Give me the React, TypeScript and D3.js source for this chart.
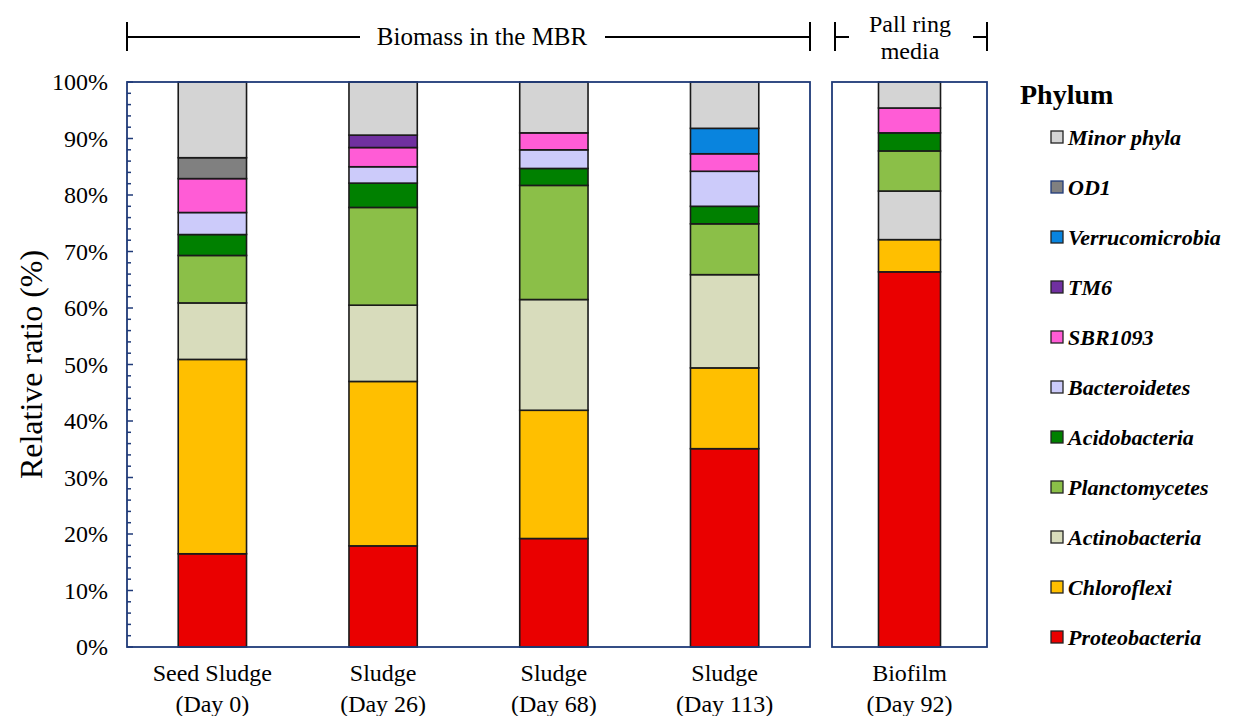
import React from "react";
import * as d3 from "d3";

const samples = ["Seed Sludge|(Day 0)", "Sludge|(Day 26)", "Sludge|(Day 68)", "Sludge|(Day 113)", "Biofilm|(Day 92)"];
const leftSamples = samples.slice(0, 4);
const rightSamples = samples.slice(4);

const phyla = [
  "Proteobacteria", "Chloroflexi", "Actinobacteria", "Planctomycetes", "Acidobacteria",
  "Bacteroidetes", "SBR1093", "TM6", "Verrucomicrobia", "OD1", "Minor phyla",
];

const proteobacteria = [16.5, 17.9, 19.2, 35.1, 66.4];
const chloroflexi = [34.4, 29.1, 22.7, 14.3, 5.7];
const actinobacteria = [10.0, 13.5, 19.6, 16.5, 8.6];
const planctomycetes = [8.4, 17.3, 20.2, 9.0, 7.1];
const acidobacteria = [3.7, 4.3, 3.0, 3.1, 3.2];
const bacteroidetes = [3.9, 2.9, 3.3, 6.2, 0];
const sbr1093 = [6.0, 3.4, 3.0, 3.1, 4.4];
const tm6 = [0, 2.2, 0, 0, 0];
const verrucomicrobia = [0, 0, 0, 4.5, 0];
const od1 = [3.7, 0, 0, 0, 0];
const minorPhyla = [13.4, 9.4, 9.0, 8.2, 4.6];

const seriesValues = [
  proteobacteria, chloroflexi, actinobacteria, planctomycetes, acidobacteria,
  bacteroidetes, sbr1093, tm6, verrucomicrobia, od1, minorPhyla,
];

const colors = [
  "#ea0000", "#ffbf00", "#d8dcbc", "#8bbf48", "#008000",
  "#cccbfa", "#ff5cd6", "#7030a0", "#0984de", "#808080", "#d4d4d4",
];
// the Biofilm Actinobacteria segment is drawn gray in the original figure
const cellColorOverride: Record<string, string> = { "Actinobacteria|Biofilm|(Day 92)": "#d4d4d4" };

const yTicks = [0, 10, 20, 30, 40, 50, 60, 70, 80, 90, 100];
const minorTicks = d3.range(0, 101, 2);

const legendOrder = [...phyla].reverse();

const FONT = "'Liberation Serif', 'Times New Roman', Times, Tinos, 'Noto Serif', 'DejaVu Serif', serif";
const BORDER = "#1f3a78";
const T = (extra: React.CSSProperties = {}): React.CSSProperties => ({ fontFamily: FONT, ...extra });

export default function App() {
  const W = 1248, H = 716;
  const top = 82, bottom = 647;
  const leftX0 = 127, leftX1 = 810, rightX0 = 832, rightX1 = 987;

  const y = d3.scaleLinear().domain([0, 100]).range([bottom, top]);
  const xL = d3.scaleBand<string>().domain(leftSamples).range([leftX0, leftX1]).paddingInner(0.6).paddingOuter(0.3);
  const xR = d3.scaleBand<string>().domain(rightSamples).range([rightX0, rightX1]).paddingInner(0.6).paddingOuter(0.3);

  const table = samples.map((s, i) => {
    const row: Record<string, any> = { sample: s };
    phyla.forEach((p, j) => (row[p] = seriesValues[j][i]));
    return row;
  });
  const stacked = d3.stack<Record<string, any>>().keys(phyla)(table);

  const xFor = (s: string) => (leftSamples.includes(s) ? xL(s)! : xR(s)!);
  const bwFor = (s: string) => (leftSamples.includes(s) ? xL.bandwidth() : xR.bandwidth());

  return (
    <svg width={W} height={H} style={{ position: "absolute", left: 0, top: 0, background: "#fff" }}>
      {/* header brackets */}
      <g stroke="#000" strokeWidth={2}>
        <line x1={leftX0} x2={leftX0} y1={22} y2={51} />
        <line x1={leftX1} x2={leftX1} y1={22} y2={51} />
        <line x1={leftX0} x2={360} y1={37} y2={37} />
        <line x1={605} x2={leftX1} y1={37} y2={37} />
        <line x1={835} x2={835} y1={22} y2={51} />
        <line x1={835} x2={849} y1={37} y2={37} />
        <line x1={987} x2={987} y1={22} y2={51} />
        <line x1={973} x2={987} y1={37} y2={37} />
      </g>
      <text x={482} y={45} style={T({ fontSize: 25 })} textAnchor="middle">Biomass in the MBR</text>
      <text x={910} y={32} style={T({ fontSize: 24 })} textAnchor="middle">Pall ring</text>
      <text x={910} y={59} style={T({ fontSize: 24 })} textAnchor="middle">media</text>

      {/* bars */}
      {stacked.map((layer, j) => (
        <g key={layer.key}>
          {layer.map((d, i) => {
            const s = samples[i];
            const h = y(d[0]) - y(d[1]);
            if (h <= 0.01) return null;
            const fill = cellColorOverride[`${layer.key}|${s}`] ?? colors[j];
            return (
              <rect key={s} x={xFor(s)} y={y(d[1])} width={bwFor(s)} height={h}
                fill={fill} stroke="#1a1a1a" strokeWidth={1.6} />
            );
          })}
        </g>
      ))}

      {/* panels */}
      <rect x={leftX0} y={top} width={leftX1 - leftX0} height={bottom - top} fill="none" stroke={BORDER} strokeWidth={1.8} />
      <rect x={rightX0} y={top} width={rightX1 - rightX0} height={bottom - top} fill="none" stroke={BORDER} strokeWidth={1.8} />

      {/* ticks */}
      <g stroke={BORDER} strokeWidth={1.5}>
        {minorTicks.map((t) => (
          <line key={t} x1={leftX0} x2={leftX0 + (t % 10 === 0 ? 6 : 4)} y1={y(t)} y2={y(t)} />
        ))}
      </g>
      {yTicks.map((t) => (
        <text key={t} x={108} y={y(t)} dy="0.35em" style={T({ fontSize: 24 })} textAnchor="end">{t}%</text>
      ))}
      <text transform={`translate(31, ${(top + bottom) / 2}) rotate(-90)`} style={T({ fontSize: 32 })} textAnchor="middle" dy="0.35em">
        Relative ratio (%)
      </text>

      {/* x labels */}
      {samples.map((s) => {
        const [a, b] = s.split("|");
        const cx = xFor(s) + bwFor(s) / 2;
        return (
          <g key={s}>
            <text x={cx} y={681} style={T({ fontSize: 24 })} textAnchor="middle">{a}</text>
            <text x={cx} y={712} style={T({ fontSize: 24 })} textAnchor="middle">{b}</text>
          </g>
        );
      })}

      {/* legend */}
      <text x={1020} y={104} style={T({ fontSize: 28, fontWeight: "bold" })}>Phylum</text>
      {legendOrder.map((p, k) => {
        const j = phyla.indexOf(p);
        const cy = 137 + k * 50;
        return (
          <g key={p}>
            <rect x={1051} y={cy - 6} width={12} height={12} fill={colors[j]}
              stroke={p === "OD1" ? "#1f3a78" : "#222"} strokeWidth={1.3} />
            <text x={1068} y={cy} dy="0.35em" style={T({ fontSize: 22, fontStyle: "italic", fontWeight: "bold" })}>{p}</text>
          </g>
        );
      })}
    </svg>
  );
}
